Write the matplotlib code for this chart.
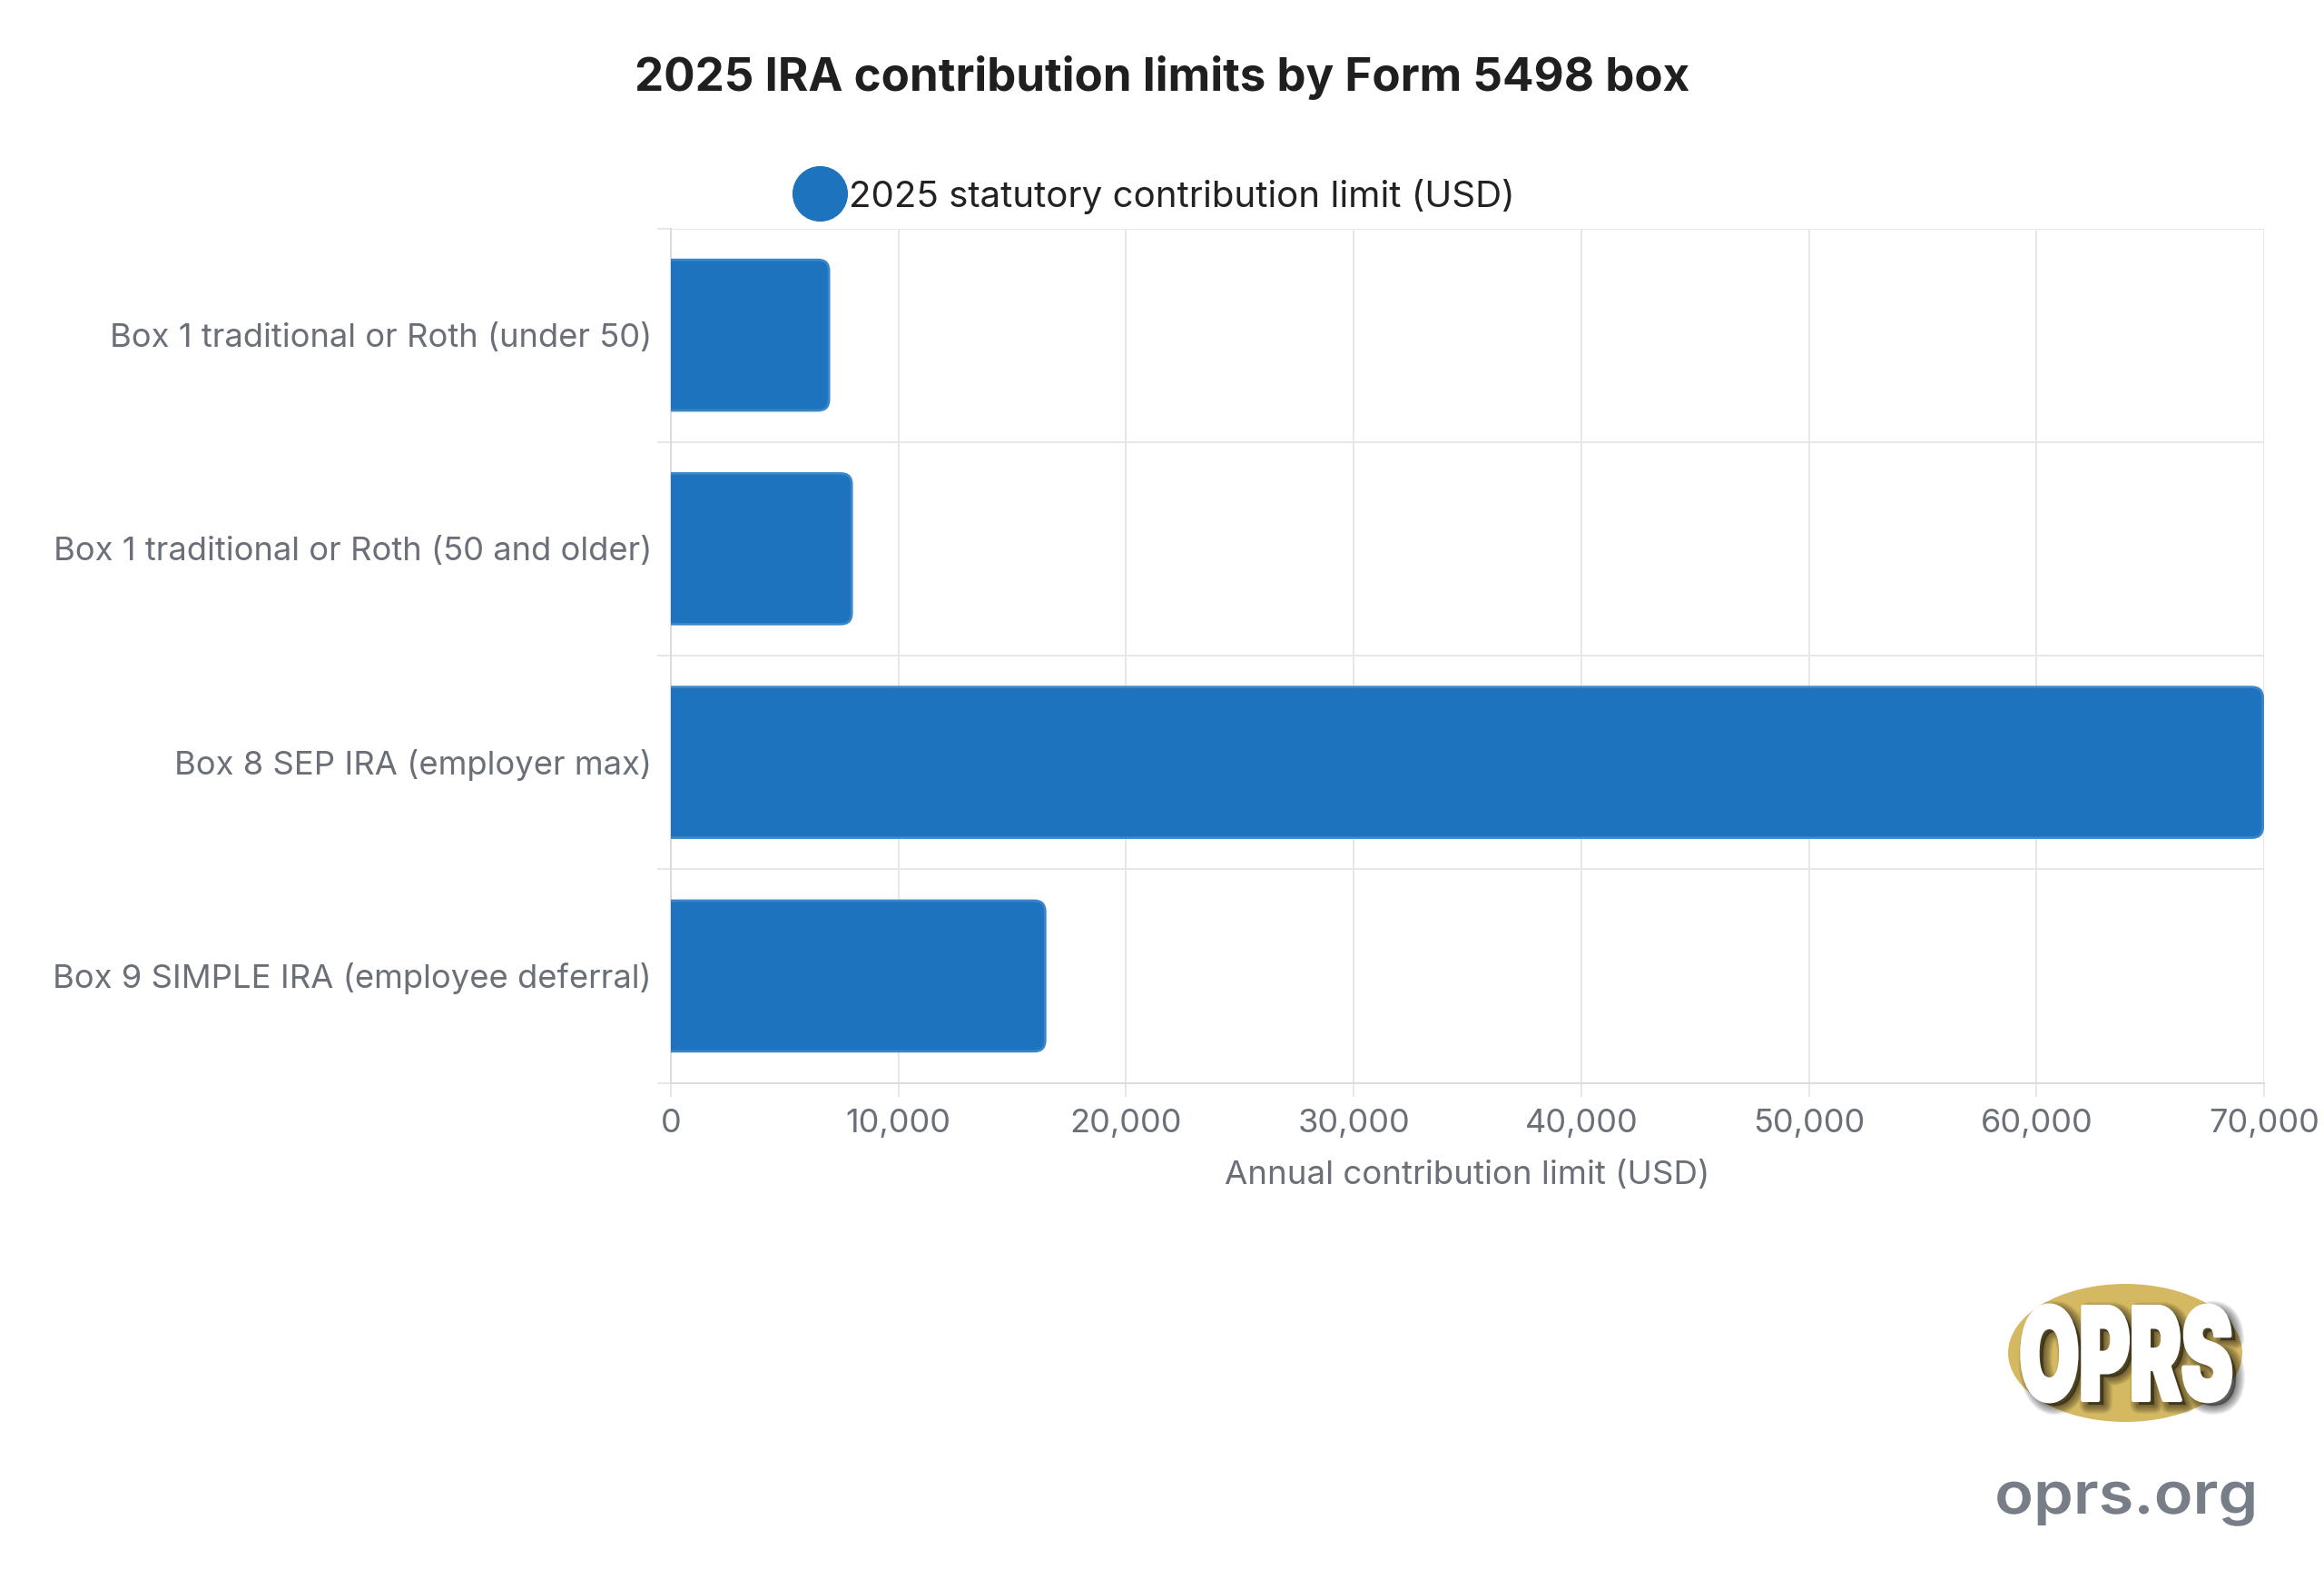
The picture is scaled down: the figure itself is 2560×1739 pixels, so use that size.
import matplotlib
matplotlib.use("Agg")
import matplotlib.pyplot as plt
from matplotlib.colors import to_rgba
from matplotlib.lines import Line2D
from matplotlib.patches import Ellipse, PathPatch
from matplotlib.path import Path
from matplotlib.patheffects import AbstractPathEffect
from matplotlib.ticker import FuncFormatter
from matplotlib.transforms import Affine2D

plt.rcParams['font.family'] = ['Inter', 'DejaVu Sans']

# values
categories = [
    'Box 1 traditional or Roth (under 50)',
    'Box 1 traditional or Roth (50 and older)',
    'Box 8 SEP IRA (employer max)',
    'Box 9 SIMPLE IRA (employee deferral)',
]
limits = [7000, 8000, 70000, 16500]
x_ticks = [0, 10000, 20000, 30000, 40000, 50000, 60000, 70000]
series_name = '2025 statutory contribution limit (USD)'
x_title = 'Annual contribution limit (USD)'
chart_title = '2025 IRA contribution limits by Form 5498 box'

W, H = 2560, 1740
BLUE = '#1d73bd'
EDGE = '#3a86c8'
GRID = '#e7e7e7'
GREY = '#6b7078'


class Squeezed(AbstractPathEffect):
    # draws text narrower or wider than the font, the logo lettering needs it
    def __init__(self, cx, sx, dx=0, dy=0, color='black', alpha=1.0, lw=0):
        self.cx, self.sx, self.dx, self.dy = cx, sx, dx, dy
        self.color, self.alpha, self.lw = color, alpha, lw

    def draw_path(self, renderer, gc, tpath, affine, rgbFace=None):
        squeeze = Affine2D().translate(-self.cx, 0).scale(self.sx, 1).translate(self.cx + self.dx, -self.dy)
        gc0 = renderer.new_gc()
        gc0.copy_properties(gc)
        gc0.set_alpha(self.alpha)
        gc0.set_foreground(self.color)
        gc0.set_linewidth(self.lw)
        gc0.set_joinstyle('round')
        renderer.draw_path(gc0, tpath, affine + squeeze, to_rgba(self.color, self.alpha))
        gc0.restore()


def bar_path(value, y, height, rx, ry, closed):
    top, bottom = y - height / 2, y + height / 2
    verts = [(0, top), (value - rx, top), (value, top), (value, top + ry),
             (value, bottom - ry), (value, bottom), (value - rx, bottom), (0, bottom)]
    codes = [Path.MOVETO, Path.LINETO, Path.CURVE3, Path.CURVE3,
             Path.LINETO, Path.CURVE3, Path.CURVE3, Path.LINETO]
    if closed:
        verts.append((0, top))
        codes.append(Path.CLOSEPOLY)
    return Path(verts, codes)


fig = plt.figure(figsize=(W / 100, H / 100), dpi=100, facecolor='white')
ax = fig.add_axes([739 / W, 1 - 1193.5 / H, (2494 - 739) / W, (1193.5 - 252.5) / H])

ax.set_xlim(0, 70000)
ax.set_ylim(3.5, -0.5)
ax.set_xticks(x_ticks)
ax.xaxis.set_major_formatter(FuncFormatter(lambda v, _: f'{int(v):,}'))
ax.set_yticks(range(len(categories)))
ax.set_yticklabels(categories)
ax.set_yticks([-0.5, 0.5, 1.5, 2.5, 3.5], minor=True)

ax.grid(True, which='major', axis='x', color=GRID, lw=1.44)
ax.grid(True, which='minor', axis='y', color=GRID, lw=1.44)
ax.set_axisbelow(True)
ax.tick_params(axis='x', which='major', length=10.8, width=1.44, color=GRID,
               labelcolor=GREY, labelsize=26, pad=9)
ax.tick_params(axis='y', which='major', length=0, labelcolor=GREY, labelsize=26.2, pad=15)
ax.tick_params(axis='y', which='minor', length=10.8, width=1.44, color=GRID)
for side in ['top', 'right']:
    ax.spines[side].set_visible(False)
for side in ['left', 'bottom']:
    ax.spines[side].set_color('#dcdcdc')
    ax.spines[side].set_linewidth(1.44)
ax.set_xlabel(x_title, color=GREY, fontsize=26.4, labelpad=17)

# category labels sit a touch higher than matplotlib centres them
for label in ax.get_yticklabels():
    label.set_transform(label.get_transform() + Affine2D().translate(0, 1.5))

# rounded right corners, about 12 px on the canvas, border kept inside the value
rx = 12 * 70000 / (2494 - 739)
ry = 12 / 235.25
inset = 56
for i, value in enumerate(limits):
    ax.add_patch(PathPatch(bar_path(value - inset, i, 0.705, rx, ry, True), fc=BLUE, ec='none', zorder=3, clip_on=False))
    ax.add_patch(PathPatch(bar_path(value - inset, i, 0.705, rx, ry, False), fc='none', ec=EDGE, lw=2, zorder=3, clip_on=False))

fig.text(0.5, 1 - 85 / H, chart_title, ha='center', va='center', fontsize=36.75, fontweight='bold', color='#1f1f1f')

fig.legend(handles=[Line2D([], [], marker='o', ls='', color=BLUE, markersize=43)], labels=[series_name],
           loc='center left', bbox_to_anchor=(873 / W, 1 - 217 / H), frameon=False, fontsize=29,
           labelcolor='#222222', borderpad=0, borderaxespad=0, handlelength=1.5, handletextpad=0.05)

# logo, in canvas pixels
logo = fig.add_axes([0, 0, 1, 1], facecolor='none')
logo.set_xlim(0, W)
logo.set_ylim(H, 0)
logo.axis('off')
logo.add_patch(Ellipse((2341, 1491), 258, 152, fc='#d4b862', ec='none'))
cx = 2342
sx = 0.6
effects = [Squeezed(cx, sx, dx=6, dy=5, color='black', alpha=0.08, lw=w) for w in range(14, 0, -2)]
effects.append(Squeezed(cx, sx, color='white', lw=3))
logo.text(cx, 1543, 'OPRS', ha='center', va='baseline', fontsize=102, fontweight='black',
          path_effects=effects)
logo.text(cx, 1668, 'oprs.org', ha='center', va='baseline', fontsize=46, fontweight='semibold',
          path_effects=[Squeezed(cx, 1.1, color='#787e88')])

fig.savefig('out.png', dpi=100)
